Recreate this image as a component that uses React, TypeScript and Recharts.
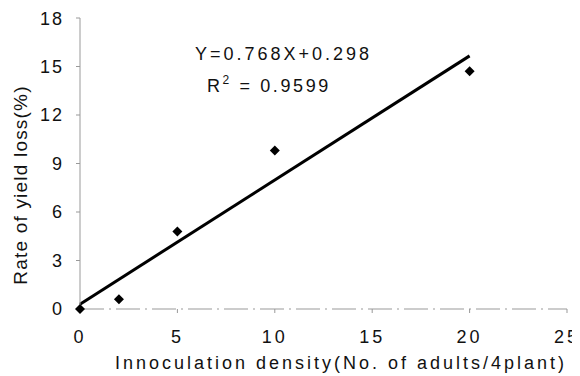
import React from "react";
import { ComposedChart, Scatter, Line, XAxis, YAxis } from "recharts";

// observed points
const density = [0, 2, 5, 10, 20];
const yieldLoss = [0, 0.6, 4.8, 9.8, 14.7];

// fitted line Y=0.768X+0.298, endpoints as drawn
const fitX = [0, 20];
const fitY = [0.298, 15.658];

const xTicks = [0, 5, 10, 15, 20, 25];
const yTicks = [0, 3, 6, 9, 12, 15, 18];

const points = density.map((x, i) => ({ x, y: yieldLoss[i] }));
const fit = fitX.map((x, i) => ({ x, y: fitY[i] }));

const font = "'Liberation Sans', Arial, sans-serif";

const Diamond = (props: any) => {
  const { cx, cy } = props;
  const r = 5;
  return (
    <path
      d={`M${cx},${cy - r}L${cx + r},${cy}L${cx},${cy + r}L${cx - r},${cy}Z`}
      fill="#000"
    />
  );
};

const App = () => {
  return (
    <div style={{ width: 572, height: 368, fontFamily: font }}>
      <ComposedChart
        width={572}
        height={368}
        margin={{ top: 10, right: 13, bottom: 0, left: 0 }}
      >
        <XAxis
          type="number"
          dataKey="x"
          domain={[0, 25]}
          ticks={xTicks}
          height={67}
          stroke="#999"
          strokeDasharray="24 5 2 5"
          tickSize={4}
          tickMargin={17}
          tick={{ fill: "#111", fontSize: 18, letterSpacing: 3, fontFamily: font }}
        />
        <YAxis
          type="number"
          dataKey="y"
          domain={[0, 18]}
          ticks={yTicks}
          width={72}
          stroke="#999"
          tickSize={4}
          tickMargin={12}
          tick={{ fill: "#111", fontSize: 18, letterSpacing: 2, fontFamily: font }}
        />
        <Line
          data={fit}
          dataKey="y"
          stroke="#000"
          strokeWidth={3}
          dot={false}
          isAnimationActive={false}
        />
        <Scatter
          data={points}
          dataKey="y"
          shape={<Diamond />}
          isAnimationActive={false}
        />
        <text
          x={333}
          y={361}
          textAnchor="middle"
          fontSize={18}
          letterSpacing={3}
          fontFamily={font}
          fill="#111"
        >
          Innoculation density(No. of adults/4plant)
        </text>
        <text
          x={19}
          y={177}
          transform="rotate(-90, 19, 177)"
          textAnchor="middle"
          fontSize={19}
          letterSpacing={1.2}
          fontFamily={font}
          fill="#111"
        >
          Rate of yield loss(%)
        </text>
        <text
          x={187}
          y={52}
          fontSize={18}
          letterSpacing={3}
          fontFamily={font}
          fill="#111"
        >
          Y=0.768X+0.298
        </text>
        <text x={199} y={84} fontSize={18} letterSpacing={2.6} fontFamily={font} fill="#111">
          R
          <tspan fontSize={12} dy={-8}>2</tspan>
          <tspan dy={8}> = 0.9599</tspan>
        </text>
      </ComposedChart>
    </div>
  );
};

export default App;
